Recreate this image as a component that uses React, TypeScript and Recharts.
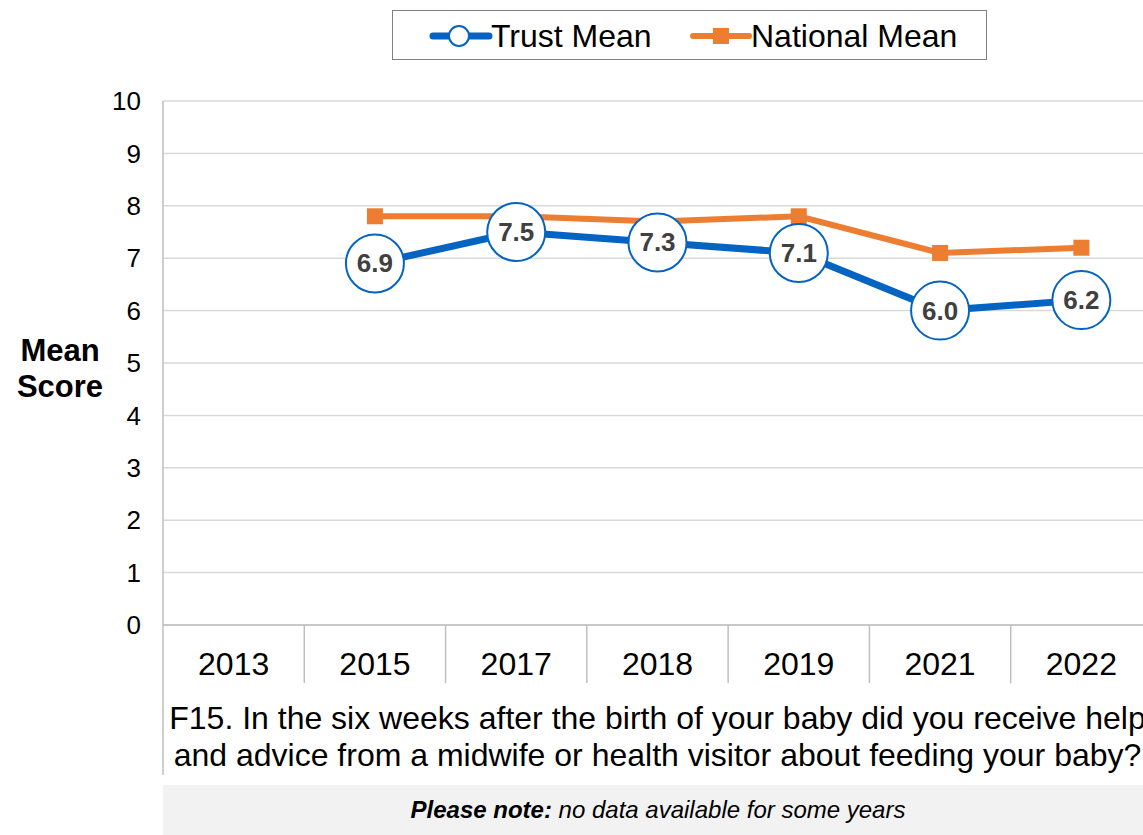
import React from 'react';
import { LineChart, Line, XAxis, YAxis, CartesianGrid } from 'recharts';

const years = ['2013', '2015', '2017', '2018', '2019', '2021', '2022'];
const trustMean = [null, 6.9, 7.5, 7.3, 7.1, 6.0, 6.2];
const nationalMean = [null, 7.8, 7.8, 7.7, 7.8, 7.1, 7.2];
const yTicks = [0, 1, 2, 3, 4, 5, 6, 7, 8, 9, 10];

const FONT = 'Arial, "Liberation Sans", sans-serif';
const BLUE = '#0563C1';
const ORANGE = '#ED7D31';
const AXIS = '#BFBFBF';

const CHART_W = 1160;
const MARGIN = { top: 101, right: 8, bottom: 150, left: 103 };
const Y_AXIS_W = 60;
const bandW = (CHART_W - MARGIN.left - MARGIN.right - Y_AXIS_W) / years.length;

const data = years.map((year, i) => ({ year, trust: trustMean[i], national: nationalMean[i] }));

const YearTick = (props: any) => {
  const { x, y, payload, index } = props;
  return (
    <g>
      <text x={x} y={y + 50} textAnchor="middle" fontSize={32} fontFamily={FONT} fill="#000">
        {payload.value}
      </text>
      <line x1={x + bandW / 2} y1={y} x2={x + bandW / 2} y2={y + 58} stroke={AXIS} strokeWidth={1.5} />
      {index === 0 && <line x1={x - bandW / 2} y1={y} x2={x - bandW / 2} y2={y + 150} stroke={AXIS} strokeWidth={1.5} />}
    </g>
  );
};

const TrustDot = (props: any) => {
  const { cx, cy, value, index } = props;
  if (value == null) return <g key={`t${index}`} />;
  return (
    <g key={`t${index}`}>
      <circle cx={cx} cy={cy} r={29} fill="#fff" stroke={BLUE} strokeWidth={2} />
      <text x={cx} y={cy + 9} textAnchor="middle" fontSize={26} fontWeight="bold" fontFamily={FONT} fill="#404040">
        {value.toFixed(1)}
      </text>
    </g>
  );
};

const NationalDot = (props: any) => {
  const { cx, cy, value, index } = props;
  if (value == null) return <g key={`n${index}`} />;
  return <rect key={`n${index}`} x={cx - 8} y={cy - 8} width={16} height={16} fill={ORANGE} />;
};

const App = () => {
  return (
    <div style={{ position: 'absolute', left: 0, top: 0, width: 1143, height: 835, overflow: 'hidden', background: '#fff', fontFamily: FONT }}>
      {/* legend */}
      <div style={{ position: 'absolute', left: 392, top: 10, width: 593, height: 48, border: '1.5px solid #7F7F7F', background: '#fff' }}>
        <svg width={593} height={48} style={{ position: 'absolute', left: 0, top: 0 }}>
          <line x1={40} y1={25} x2={96} y2={25} stroke={BLUE} strokeWidth={7} strokeLinecap="round" />
          <circle cx={66} cy={25} r={10} fill="#fff" stroke={BLUE} strokeWidth={2} />
          <text x={98} y={36} fontSize={32} fontFamily={FONT} fill="#000">Trust Mean</text>
          <line x1={300} y1={25} x2={356} y2={25} stroke={ORANGE} strokeWidth={6} strokeLinecap="round" />
          <rect x={320} y={17} width={16} height={16} fill={ORANGE} />
          <text x={358} y={36} fontSize={32} fontFamily={FONT} fill="#000">National Mean</text>
        </svg>
      </div>

      {/* y axis title */}
      <div style={{ position: 'absolute', left: 0, top: 333, width: 120, textAlign: 'center', fontSize: 31, fontWeight: 'bold', lineHeight: '36px', color: '#000' }}>
        Mean<br />Score
      </div>

      <div style={{ position: 'absolute', left: 0, top: 0 }}>
        <LineChart width={CHART_W} height={835} data={data} margin={MARGIN}>
          <CartesianGrid vertical={false} stroke="#D9D9D9" strokeWidth={1.5} />
          <XAxis
            dataKey="year"
            height={60}
            interval={0}
            padding={{ left: bandW / 2, right: bandW / 2 }}
            tickLine={false}
            tickSize={0}
            tickMargin={0}
            axisLine={{ stroke: AXIS, strokeWidth: 1.5 }}
            tick={<YearTick />}
          />
          <YAxis
            width={Y_AXIS_W}
            domain={[0, 10]}
            ticks={yTicks}
            interval={0}
            tickLine={false}
            tickSize={0}
            tickMargin={22}
            axisLine={{ stroke: AXIS, strokeWidth: 1.5 }}
            tick={{ fontSize: 26, fill: '#000', fontFamily: FONT }}
          />
          <Line dataKey="national" stroke={ORANGE} strokeWidth={6} dot={<NationalDot />} activeDot={false} isAnimationActive={false} />
          <Line dataKey="trust" stroke={BLUE} strokeWidth={7} dot={<TrustDot />} activeDot={false} isAnimationActive={false} />
        </LineChart>
      </div>

      {/* question text */}
      <div style={{ position: 'absolute', left: 163, top: 700, width: 989, textAlign: 'center', fontSize: 32, lineHeight: '37px', whiteSpace: 'nowrap', color: '#000' }}>
        F15. In the six weeks after the birth of your baby did you receive help<br />
        and advice from a midwife or health visitor about feeding your baby?
      </div>

      {/* note box */}
      <div style={{ position: 'absolute', left: 163, top: 785, width: 990, height: 50, background: '#F2F2F2', textAlign: 'center', fontSize: 24, lineHeight: '50px', fontStyle: 'italic', color: '#000' }}>
        <b>Please note:</b> no data available for some years
      </div>
    </div>
  );
};

export default App;
